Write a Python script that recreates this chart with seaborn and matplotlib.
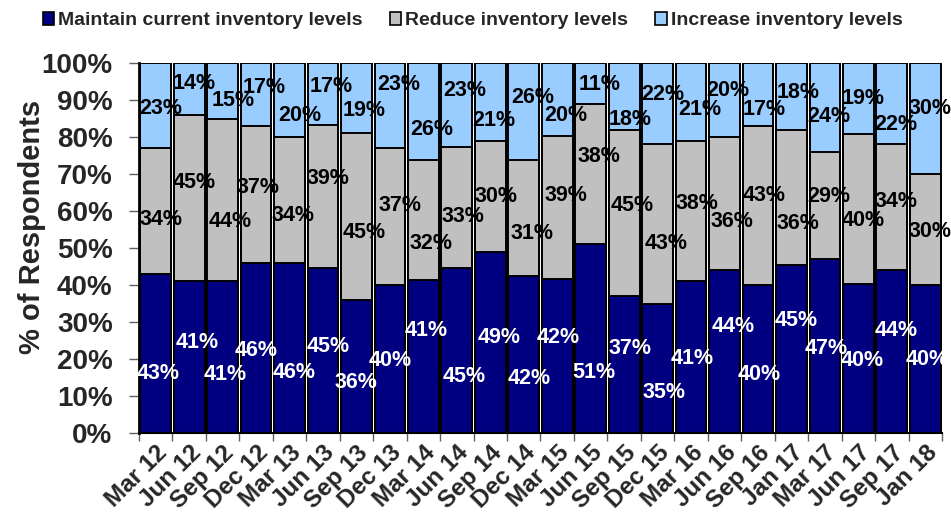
import matplotlib
matplotlib.use("Agg")
import matplotlib.pyplot as plt
import numpy as np
import pandas as pd
import seaborn as sns
from matplotlib.patches import Patch
from matplotlib.ticker import FixedLocator, PercentFormatter

# Survey periods and the share of respondents choosing each option (%)
periods = ["Mar 12", "Jun 12", "Sep 12", "Dec 12", "Mar 13", "Jun 13", "Sep 13", "Dec 13",
           "Mar 14", "Jun 14", "Sep 14", "Dec 14", "Mar 15", "Jun 15", "Sep 15", "Dec 15",
           "Mar 16", "Jun 16", "Sep 16", "Jan 17", "Mar 17", "Jun 17", "Sep 17", "Jan 18"]
maintain = [43, 41, 41, 46, 46, 45, 36, 40, 41, 45, 49, 42, 42, 51, 37, 35, 41, 44, 40, 45, 47, 40, 44, 40]
reduce_levels = [34, 45, 44, 37, 34, 39, 45, 37, 32, 33, 30, 31, 39, 38, 45, 43, 38, 36, 43, 36, 29, 40, 34, 30]
increase = [23, 14, 15, 17, 20, 17, 19, 23, 26, 23, 21, 26, 20, 11, 18, 22, 21, 20, 17, 18, 24, 19, 22, 30]

series_names = ["Maintain current inventory levels", "Reduce inventory levels", "Increase inventory levels"]
series_colors = ["#000080", "#C0C0C0", "#99CCFF"]
label_colors = ["white", "black", "black"]

# Placement of the value labels: horizontal nudge (in bar slots) and height (in %)
maintain_label_dx = [0.06, 0.23, 0.07, 0.0, 0.14, 0.16, 0.0, 0.0, 0.09, 0.23, 0.25, 0.17,
                     0.02, 0.11, 0.19, 0.19, 0.04, 0.25, 0.05, 0.13, 0.03, 0.10, 0.13, 0.05]
maintain_label_y = [16.1, 24.4, 15.9, 22.2, 16.3, 23.3, 13.7, 19.7, 27.6, 15.2, 25.9, 14.8,
                    25.9, 16.3, 22.9, 10.9, 20.2, 28.9, 15.9, 30.5, 22.9, 19.7, 27.8, 19.9]
reduce_label_dx = [0.15, 0.14, 0.22, 0.07, 0.09, 0.16, 0.23, 0.31, 0.24, 0.17, 0.17, 0.26,
                   0.25, 0.25, 0.25, 0.26, 0.19, 0.21, 0.19, 0.20, 0.13, 0.14, 0.13, 0.13]
reduce_label_y = [57.8, 67.8, 57.1, 66.3, 58.7, 68.8, 54.1, 61.6, 51.1, 58.5, 63.9, 54.0,
                  64.3, 74.7, 61.6, 51.1, 62.1, 57.1, 64.1, 56.7, 63.9, 57.3, 62.5, 54.4]
increase_label_dx = [0.15, 0.14, 0.31, 0.24, 0.31, 0.24, 0.24, 0.27, 0.24, 0.23, 0.10, 0.26,
                     0.25, 0.26, 0.19, 0.17, 0.25, 0.11, 0.20, 0.20, 0.13, 0.14, 0.11, 0.13]
increase_label_y = [87.8, 94.5, 90.0, 93.4, 85.9, 93.6, 87.1, 94.1, 82.1, 92.5, 84.4, 90.6,
                    85.7, 94.3, 84.8, 91.6, 87.5, 92.5, 87.3, 92.1, 85.5, 90.5, 83.5, 87.8]

sns.set_theme(style="white")
plt.rcParams["font.family"] = ["Liberation Sans", "DejaVu Sans"]
plt.rcParams["font.weight"] = "bold"

# 100% stacked: normalise each period so the stack reaches exactly 100
vals = np.array([maintain, reduce_levels, increase], dtype=float)
shares = vals / vals.sum(axis=0) * 100
cum = np.cumsum(shares, axis=0)
df = pd.DataFrame({"period": periods,
                   "cum_maintain": cum[0], "cum_reduce": cum[1], "cum_increase": cum[2]})

fig = plt.figure(figsize=(9.51, 5.20), dpi=100)
ax = fig.add_axes([139 / 951, 1 - 433 / 520, 803 / 951, 370 / 520])

# Draw the tallest stack first, then overlay the lower segments
for col, color in [("cum_increase", series_colors[2]),
                   ("cum_reduce", series_colors[1]),
                   ("cum_maintain", series_colors[0])]:
    sns.barplot(data=df, x="period", y=col, order=periods, color=color, saturation=1,
                width=0.92, edgecolor="black", linewidth=1.4, errorbar=None, ax=ax)

label_sets = [(maintain, maintain_label_dx, maintain_label_y, label_colors[0]),
              (reduce_levels, reduce_label_dx, reduce_label_y, label_colors[1]),
              (increase, increase_label_dx, increase_label_y, label_colors[2])]
for values, dxs, ys, tc in label_sets:
    for i, (v, dx, y) in enumerate(zip(values, dxs, ys)):
        ax.text(i + dx, y, f"{v}%", ha="center", va="center", fontsize=15.5,
                fontweight="bold", color=tc, clip_on=False, zorder=5)

ax.set_xlim(-0.5, len(periods) - 0.5)
ax.set_ylim(0, 100)
ax.set_xlabel("")
ax.set_ylabel("")
ax.set_yticks(range(0, 101, 10))
ax.yaxis.set_major_formatter(PercentFormatter(decimals=0))
ax.set_xticks(range(len(periods)))
ax.set_xticklabels(periods, rotation=45, ha="right", rotation_mode="anchor",
                   fontsize=17.5, fontweight="bold")
ax.xaxis.set_minor_locator(FixedLocator(np.arange(-0.5, len(periods), 1)))
ax.tick_params(axis="x", which="major", length=0, pad=6, bottom=True)
ax.tick_params(axis="x", which="minor", length=6, width=1, color="#606060", bottom=True)
ax.tick_params(axis="y", which="major", length=7, width=1, color="#606060", left=True,
               labelsize=20, pad=12)
for lbl in ax.get_yticklabels():
    lbl.set_fontweight("bold")

for side in ["top", "right"]:
    ax.spines[side].set_visible(False)
ax.spines["left"].set_color("black")
ax.spines["left"].set_linewidth(2)
ax.spines["bottom"].set_color("black")
ax.spines["bottom"].set_linewidth(1.5)

fig.text(32 / 951, 1 - 226.5 / 520, "% of Respondents", rotation=90, ha="center",
         va="center", fontsize=21, fontweight="bold")

handles = [Patch(facecolor=c, edgecolor="black", linewidth=1.2, label=n)
           for n, c in zip(series_names, series_colors)]
fig.legend(handles=handles, loc="upper center", bbox_to_anchor=(0.497, 1.01), ncol=3,
           frameon=False, prop={"size": 14, "weight": "bold"}, handlelength=0.6,
           handleheight=0.6, handletextpad=0.2, columnspacing=1.4)

fig.savefig("out.png", dpi=100)
